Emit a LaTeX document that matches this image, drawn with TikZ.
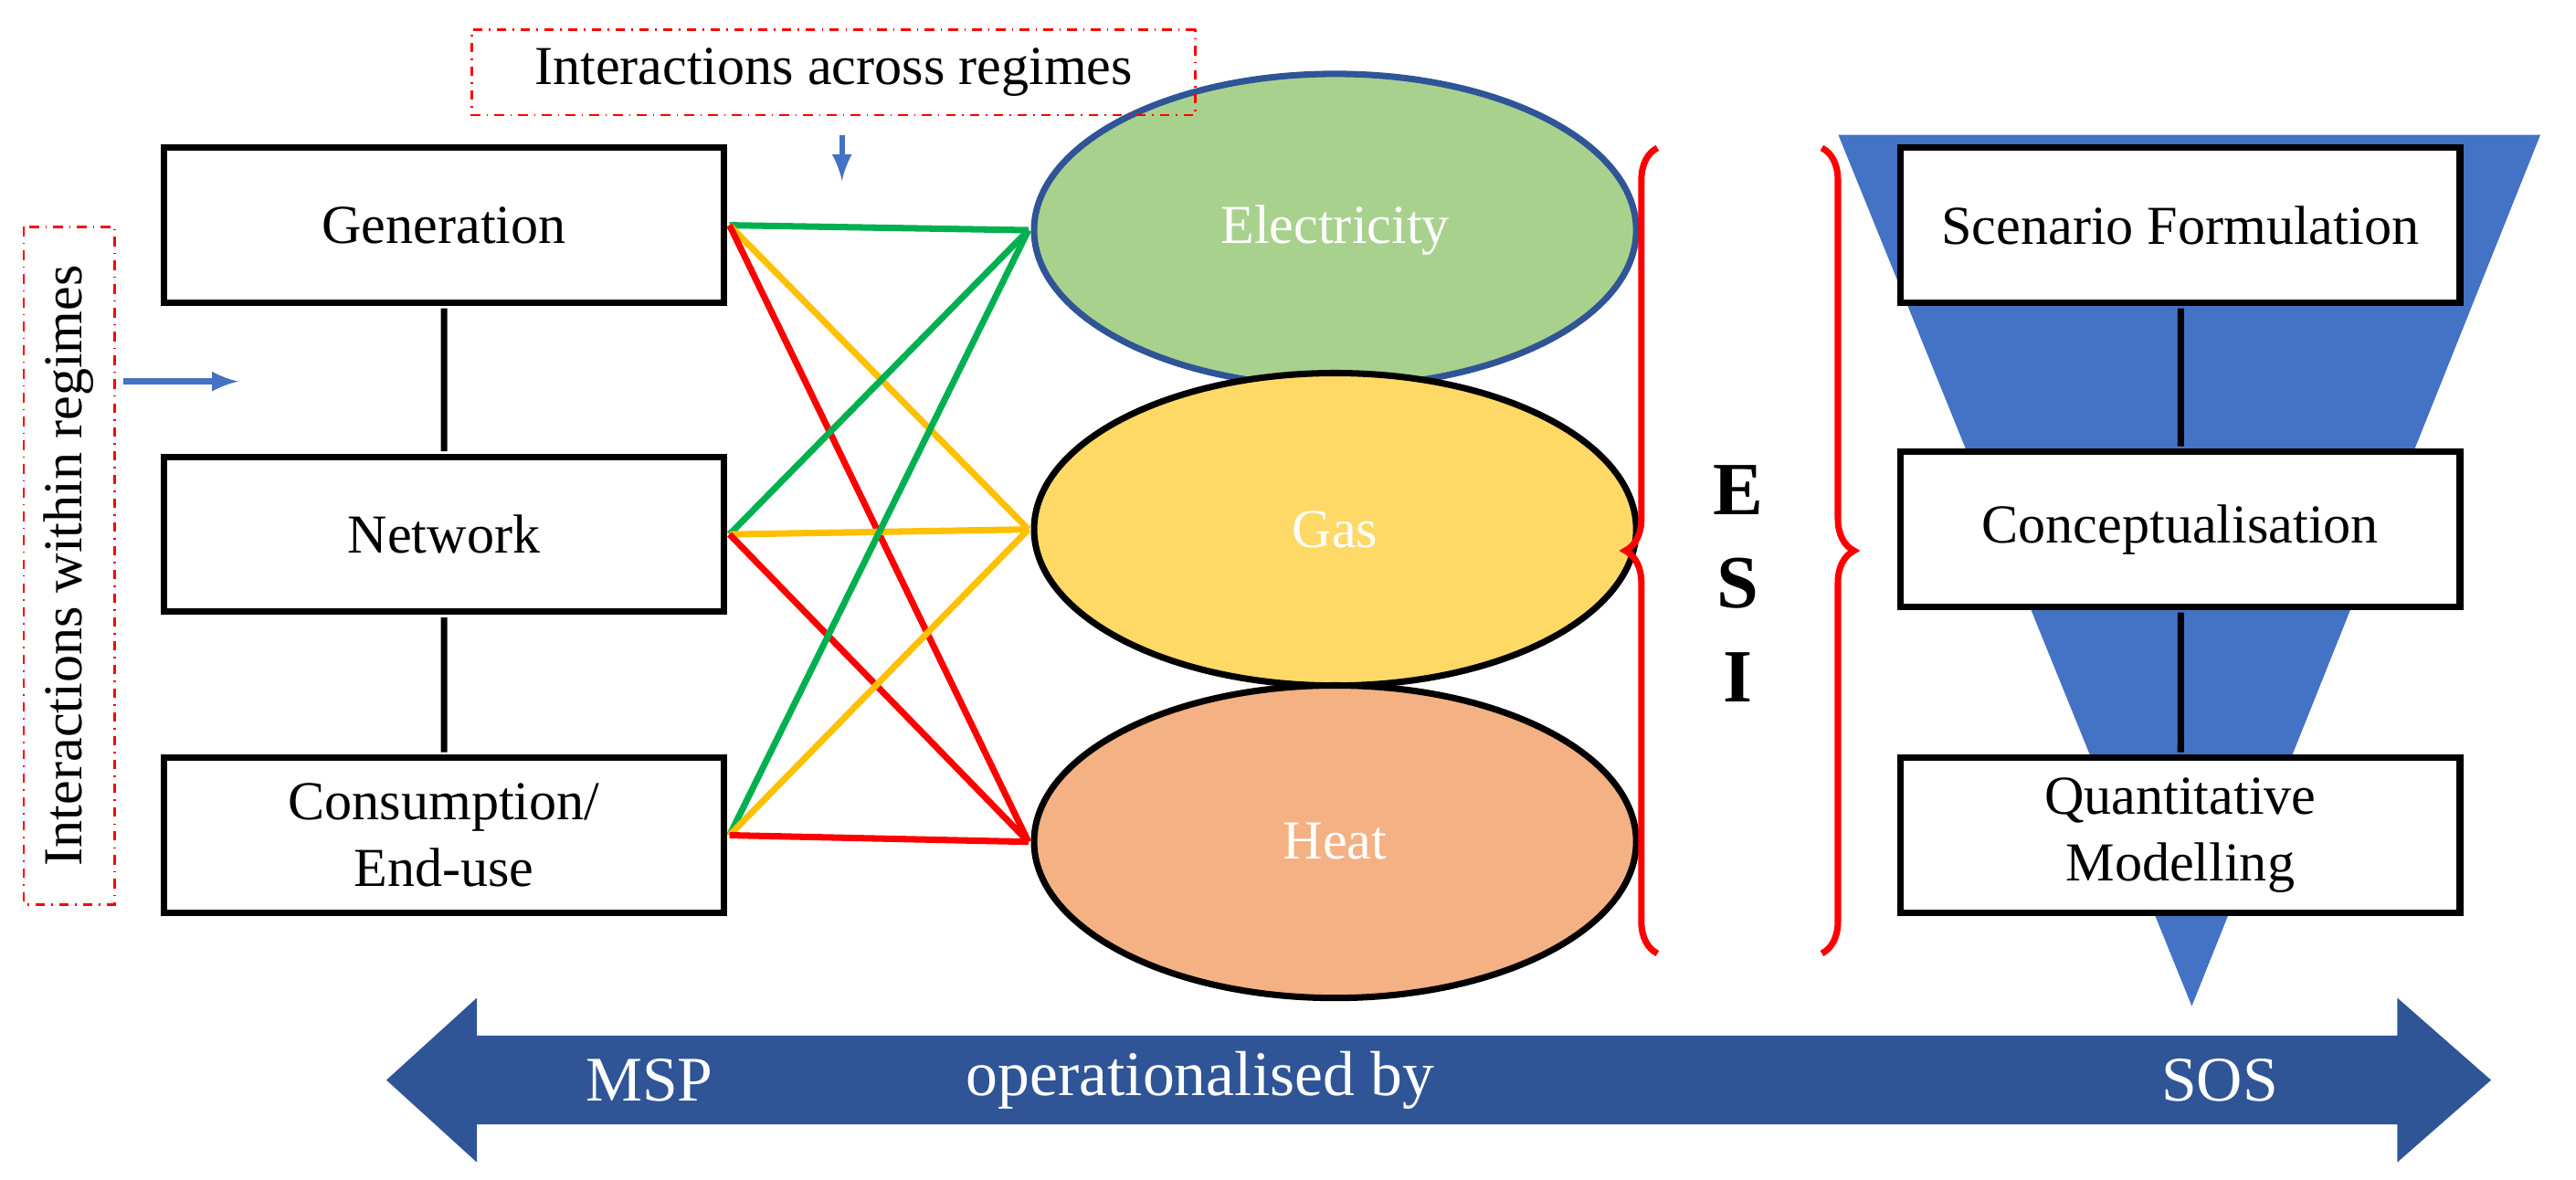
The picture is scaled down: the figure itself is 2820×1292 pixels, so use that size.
\documentclass[tikz,border=0pt]{standalone}
\usepackage{fontspec}
\setmainfont{Liberation Serif}
\usetikzlibrary{decorations.pathreplacing,shapes.geometric}
\definecolor{eg}{HTML}{A9D18E}\definecolor{gy}{HTML}{FFD966}\definecolor{ho}{HTML}{F4B183}
\definecolor{tb}{HTML}{4472C4}\definecolor{db}{HTML}{2F5597}\definecolor{lg}{HTML}{00B050}
\definecolor{ly}{HTML}{FFC000}
\begin{document}
\begin{tikzpicture}[x=0.01cm,y=-0.01cm,
 box/.style={draw,line width=2pt,fill=white,minimum width=3.4cm,minimum height=0.94cm,align=center,font=\fontsize{9.5}{11.5}\selectfont},
 ell/.style={draw,line width=2pt,ellipse,minimum width=3.66cm,minimum height=1.9cm,text=white,font=\fontsize{9.5}{11.5}\selectfont},
 dd/.style={draw=red,dash dot,line width=0.8pt},
 ln/.style={line width=2pt},
 ba/.style={-latex,tb,line width=1.8pt}]
\useasboundingbox (0,0) rectangle (2820,1292);
\begin{scope}[scale=1.8,transform shape]
% triangle
\fill[tb] (1118,82) -- (1545,82) -- (1333,612) -- cycle;
% boxes
\node[box] (gen) at (270,137) {Generation};
\node[box] (net) at (270,325) {Network};
\node[box] (con) at (270,508) {Consumption/\\End-use};
\draw[ln] (gen) -- (net) (net) -- (con);
\node[box] (sf) at (1326,137) {Scenario Formulation};
\node[box] (cc) at (1326,322) {Conceptualisation};
\node[box] (qm) at (1326,508) {Quantitative\\Modelling};
\draw[ln] (sf) -- (cc) (cc) -- (qm);
% ellipses
\node[ell,fill=eg,draw=db] (el) at (812,140) {Electricity};
\node[ell,fill=gy] (gas) at (812,322) {Gas};
\node[ell,fill=ho] (heat) at (812,512) {Heat};
% lines
\foreach \b in {gen,net,con}{
 \draw[lg,line width=2pt] (\b.east) -- (el.west);
 \draw[ly,line width=2pt] (\b.east) -- (gas.west);
 \draw[red,line width=2pt] (\b.east) -- (heat.west);}
% labels
\node[dd,font=\fontsize{9.5}{11.5}\selectfont,inner sep=3pt,minimum width=4.4cm,minimum height=0.52cm] (iar) at (507,44) {Interactions across regimes};
\coordinate (a1) at (512,82); \coordinate (a2) at (512,110);
\draw[ba] (a1) -- (a2);
\node[dd,rotate=90,font=\fontsize{9.5}{11.5}\selectfont,minimum width=4.12cm,minimum height=0.55cm] (iwr) at (42,344) {Interactions within regimes};
\coordinate (b1) at (75,232); \coordinate (b2) at (145,232);
\draw[ba] (b1) -- (b2);
% braces
\draw[red,line width=2pt,decorate,decoration={brace,amplitude=10pt}] (1008,580) -- (1008,90);
\draw[red,line width=2pt,decorate,decoration={brace,amplitude=10pt}] (1108,90) -- (1108,580);
\node[font=\fontsize{13}{15}\selectfont\bfseries] (e) at (1057,298) {E};
\node[font=\fontsize{13}{15}\selectfont\bfseries] (s) at (1057,355) {S};
\node[font=\fontsize{13}{15}\selectfont\bfseries] (i) at (1057,412) {I};
% arrow
\fill[db] (235,657) -- (290,607) -- (290,630) -- (1458,630) -- (1458,607) -- (1515,657) -- (1458,707) -- (1458,684) -- (290,684) -- (290,707) -- cycle;
\node[text=white,font=\fontsize{11}{13}\selectfont] (msp) at (395,657) {MSP};
\node[text=white,font=\fontsize{11}{13}\selectfont] (op) at (730,657) {operationalised by};
\node[text=white,font=\fontsize{11}{13}\selectfont] (sos) at (1350,657) {SOS};
\end{scope}
\end{tikzpicture}
\end{document}
